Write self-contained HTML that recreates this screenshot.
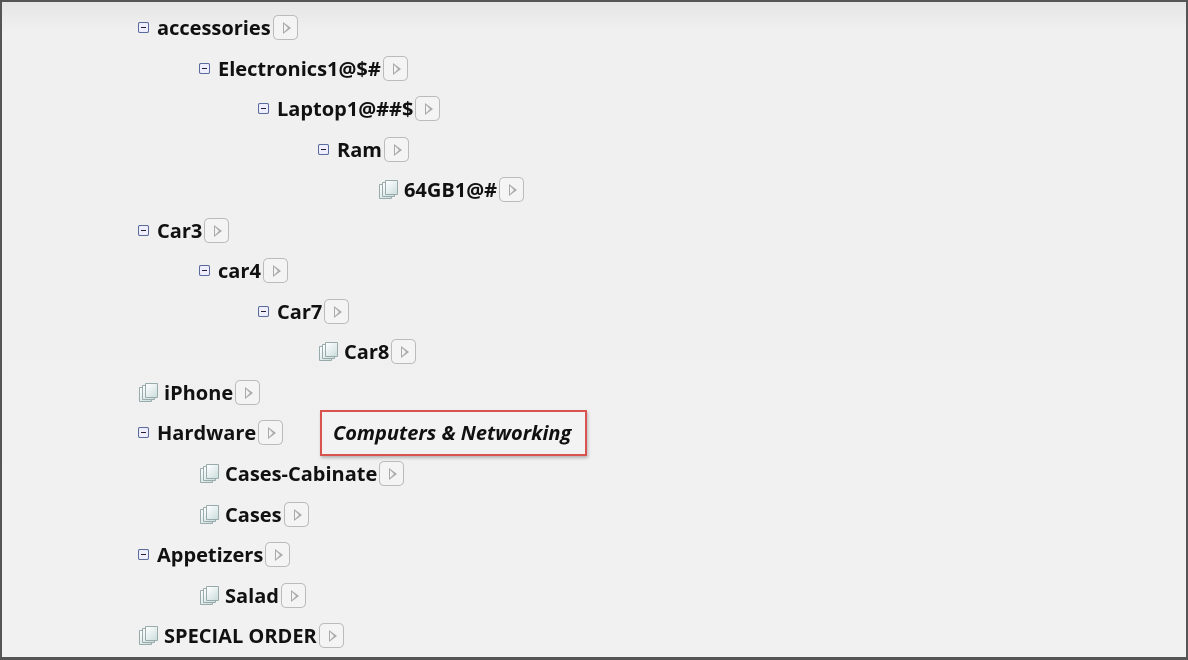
<!DOCTYPE html>
<html><head><meta charset="utf-8"><style>
html,body{margin:0;padding:0;}
body{width:1188px;height:660px;position:relative;overflow:hidden;background:#555;font-family:"Open Sans","Liberation Sans",sans-serif;}
.pg{position:absolute;left:2px;top:2px;width:1184px;height:655px;background:linear-gradient(#e6e6e6 0px,#f0f0f0 30px,#f1f1f1 100%);}
.r{position:absolute;height:26px;display:flex;align-items:center;font-weight:bold;font-size:20px;color:#111;white-space:nowrap;}
.m{width:9px;height:9px;border:1px solid #5a6a9a;border-radius:2px;background:#eef;position:relative;margin-right:8px;}
.m:after{content:"";position:absolute;left:2px;top:4px;width:5px;height:1px;background:#223;}
.l{width:20px;height:20px;margin-right:6px;position:relative;}
.l i{position:absolute;width:11px;height:13px;border:1px solid #9aa;background:linear-gradient(135deg,#fff,#cdd);border-radius:1px;}
.b{width:25px;height:25px;border:1px solid #bbb;border-radius:5px;background:#f4f4f4;margin-left:2px;position:relative;box-sizing:border-box;}
.b:after{content:"";position:absolute;left:9px;top:6px;width:0;height:0;border-left:8px solid #aaa;border-top:6px solid transparent;border-bottom:6px solid transparent;}
.b:before{content:"";position:absolute;left:10px;top:8px;width:0;height:0;border-left:4px solid #f4f4f4;border-top:4px solid transparent;border-bottom:4px solid transparent;z-index:1;}
.box{position:absolute;left:320px;top:410px;width:252px;height:42px;border:2px solid #d9534f;background:#f3f3f3;box-shadow:1px 2px 3px rgba(0,0,0,.25);font-weight:bold;font-style:italic;font-size:20px;color:#111;line-height:42px;padding-left:11px;white-space:nowrap;}
</style></head><body><div class="pg"></div>
<div class="r" style="left:138px;top:14px"><span class="m"></span>accessories<span class="b"></span></div>
<div class="r" style="left:199px;top:55px"><span class="m"></span>Electronics1@$#<span class="b"></span></div>
<div class="r" style="left:258px;top:95px"><span class="m"></span>Laptop1@##$<span class="b"></span></div>
<div class="r" style="left:318px;top:136px"><span class="m"></span>Ram<span class="b"></span></div>
<div class="r" style="left:378px;top:176px"><span class="l"><i style="left:1px;top:5px"></i><i style="left:4px;top:3px"></i><i style="left:7px;top:1px"></i></span>64GB1@#<span class="b"></span></div>
<div class="r" style="left:138px;top:217px"><span class="m"></span>Car3<span class="b"></span></div>
<div class="r" style="left:199px;top:257px"><span class="m"></span>car4<span class="b"></span></div>
<div class="r" style="left:258px;top:298px"><span class="m"></span>Car7<span class="b"></span></div>
<div class="r" style="left:318px;top:338px"><span class="l"><i style="left:1px;top:5px"></i><i style="left:4px;top:3px"></i><i style="left:7px;top:1px"></i></span>Car8<span class="b"></span></div>
<div class="r" style="left:138px;top:379px"><span class="l"><i style="left:1px;top:5px"></i><i style="left:4px;top:3px"></i><i style="left:7px;top:1px"></i></span>iPhone<span class="b"></span></div>
<div class="r" style="left:138px;top:419px"><span class="m"></span>Hardware<span class="b"></span></div>
<div class="box">Computers &amp; Networking</div>
<div class="r" style="left:199px;top:460px"><span class="l"><i style="left:1px;top:5px"></i><i style="left:4px;top:3px"></i><i style="left:7px;top:1px"></i></span>Cases-Cabinate<span class="b"></span></div>
<div class="r" style="left:199px;top:501px"><span class="l"><i style="left:1px;top:5px"></i><i style="left:4px;top:3px"></i><i style="left:7px;top:1px"></i></span>Cases<span class="b"></span></div>
<div class="r" style="left:138px;top:541px"><span class="m"></span>Appetizers<span class="b"></span></div>
<div class="r" style="left:199px;top:582px"><span class="l"><i style="left:1px;top:5px"></i><i style="left:4px;top:3px"></i><i style="left:7px;top:1px"></i></span>Salad<span class="b"></span></div>
<div class="r" style="left:138px;top:622px"><span class="l"><i style="left:1px;top:5px"></i><i style="left:4px;top:3px"></i><i style="left:7px;top:1px"></i></span>SPECIAL ORDER<span class="b"></span></div>
</body></html>
